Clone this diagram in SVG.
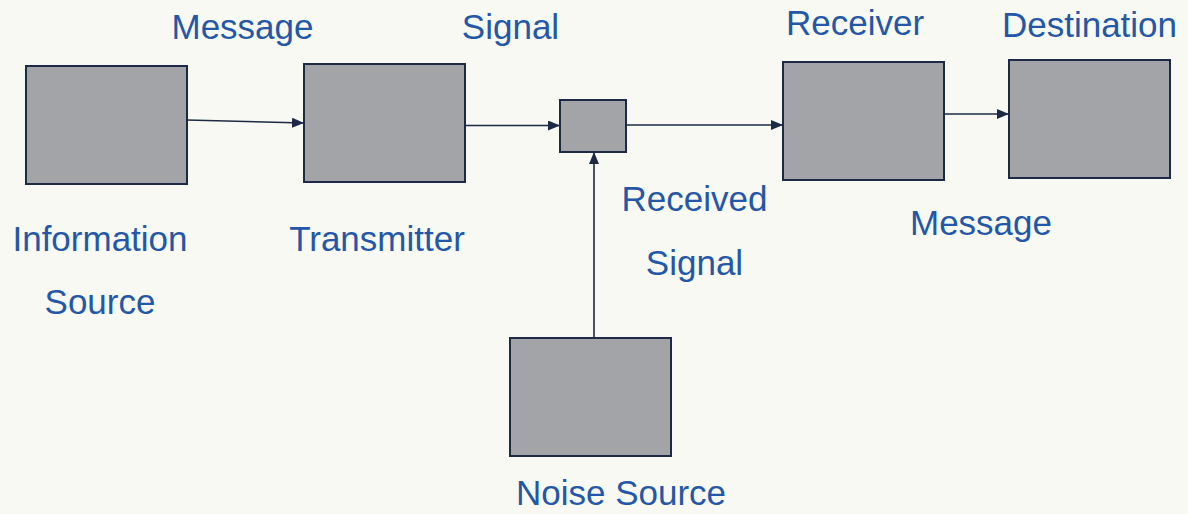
<svg xmlns="http://www.w3.org/2000/svg" width="1188" height="514" viewBox="0 0 1188 514">
  <style>
    .box { fill: #a3a4a8; stroke: #1c2a45; stroke-width: 2; }
    .lbl { font-family: "Liberation Sans", Arial, sans-serif; font-size: 35px; fill: #2457a7; text-anchor: middle; }
    .wire { stroke: #1c2a45; stroke-width: 1.6; fill: none; marker-end: url(#arrow); }
  </style>
  <defs>
    <marker id="arrow" viewBox="0 0 10 10" refX="10" refY="5" markerWidth="12" markerHeight="10" markerUnits="userSpaceOnUse" orient="auto" preserveAspectRatio="none">
      <path d="M0,0 L10,5 L0,10 z" fill="#1c2a45"/>
    </marker>
  </defs>
  <rect width="1188" height="514" fill="#f8f9f2"/>

  <g id="connectors">
    <line class="wire" x1="187" y1="120" x2="304" y2="123"/>
    <line class="wire" x1="465" y1="125.5" x2="560" y2="125.5"/>
    <line class="wire" x1="626" y1="125" x2="783" y2="125"/>
    <line class="wire" x1="944" y1="114" x2="1009" y2="114"/>
    <line class="wire" x1="594" y1="338" x2="594" y2="152"/>
  </g>

  <g id="information-source">
    <rect class="box" x="26" y="66" width="161" height="118"/>
    <text class="lbl" x="100" y="251">Information</text>
    <text class="lbl" x="100" y="314">Source</text>
  </g>
  <g id="transmitter">
    <rect class="box" x="304" y="64" width="161" height="118"/>
    <text class="lbl" x="377" y="251">Transmitter</text>
  </g>
  <g id="channel">
    <rect class="box" x="560" y="100" width="66" height="52"/>
  </g>
  <g id="receiver">
    <rect class="box" x="783" y="62" width="161" height="118"/>
    <text class="lbl" x="855" y="35">Receiver</text>
  </g>
  <g id="destination">
    <rect class="box" x="1009" y="60" width="161" height="118"/>
    <text class="lbl" x="1089.5" y="37">Destination</text>
  </g>
  <g id="noise-source">
    <rect class="box" x="510" y="338" width="161" height="118"/>
    <text class="lbl" x="621" y="505">Noise Source</text>
  </g>

  <g id="edge-labels">
    <text class="lbl" x="242.5" y="39">Message</text>
    <text class="lbl" x="510.5" y="39">Signal</text>
    <text class="lbl" x="694.5" y="211">Received</text>
    <text class="lbl" x="694.5" y="275">Signal</text>
    <text class="lbl" x="981" y="235">Message</text>
  </g>
</svg>
